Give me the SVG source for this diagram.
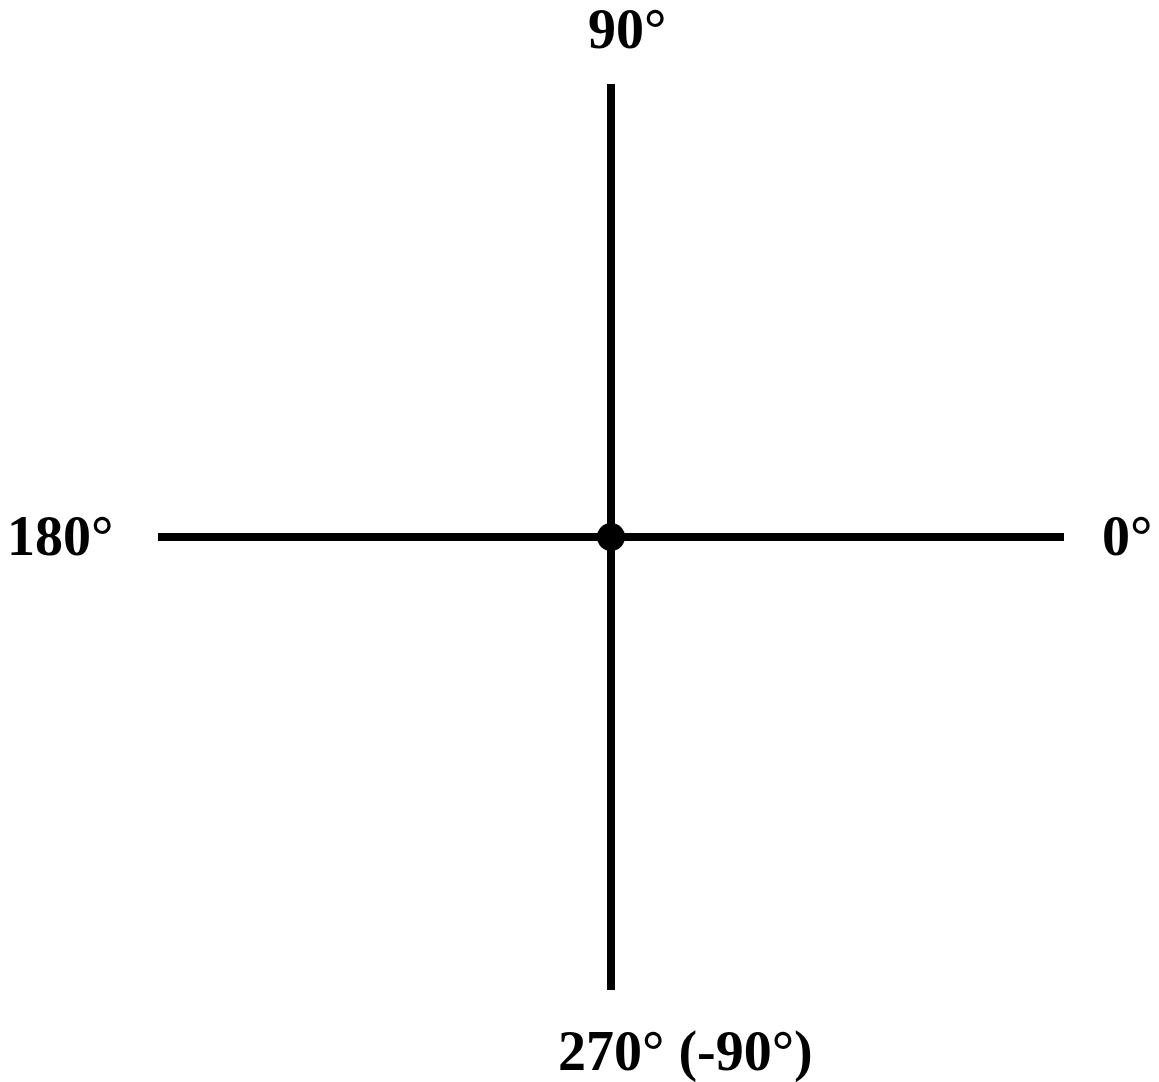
<svg xmlns="http://www.w3.org/2000/svg" width="1159" height="1082" viewBox="0 0 1159 1082">
<style>
.lbl{font-family:"Liberation Serif","Times New Roman",serif;font-weight:bold;font-size:56px;fill:#000}
.axis{stroke:#000;stroke-width:8;fill:none}
</style>
<rect width="1159" height="1082" fill="#fff"/>
<g id="connectors">
<line class="axis" x1="611" y1="84" x2="611" y2="990"/>
<line class="axis" x1="158" y1="537" x2="1064" y2="537"/>
</g>
<g id="origin"><circle cx="611" cy="537" r="14" fill="#000"/></g>
<g id="label-90"><text class="lbl" x="588" y="48">90°</text></g>
<g id="label-180"><text class="lbl" x="7" y="555">180°</text></g>
<g id="label-0"><text class="lbl" x="1102" y="555">0°</text></g>
<g id="label-270"><text class="lbl" x="558" y="1070">270° (-90°)</text></g>
</svg>
